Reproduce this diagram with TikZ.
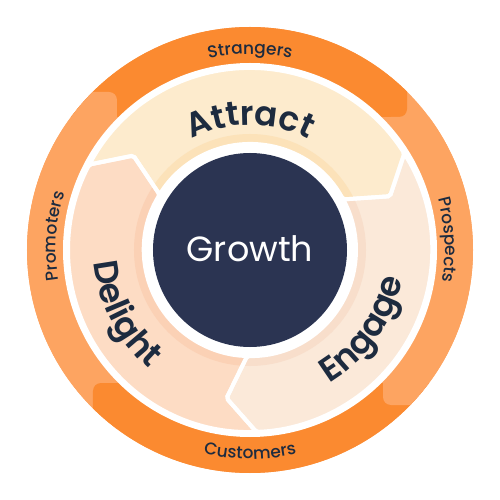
\documentclass[tikz,border=0pt]{standalone}
\usepackage{fontspec}
\setmainfont{Poppins}
\newfontfamily\bigfont{Poppins SemiBold}
\newfontfamily\smallfont{Poppins Medium}
\usetikzlibrary{decorations.text}
\definecolor{darkorange}{HTML}{FB8A30}
\definecolor{lightorange}{HTML}{FDA461}
\definecolor{attractc}{HTML}{FDEBCD}
\definecolor{attractd}{HTML}{FCE2B9}
\definecolor{engagec}{HTML}{FBE9D9}
\definecolor{engaged}{HTML}{F8DECB}
\definecolor{delightc}{HTML}{FDDCC4}
\definecolor{delightd}{HTML}{FBD1B5}
\definecolor{navy}{HTML}{2B3452}
\definecolor{txt}{HTML}{1D2B3F}
\newcommand\bigtxt{\bigfont\fontsize{34}{40}\selectfont\color{txt}}
\newcommand\smalltxt{\smallfont\fontsize{17}{20}\selectfont\color{txt}}
\tikzset{
  bigword/.style={decorate, decoration={text along path, text align=center, text={|\bigtxt|#1}}},
  smallword/.style={decorate, decoration={text along path, text align=center, text={|\smalltxt|#1}}}
}
\begin{document}
\begin{tikzpicture}[x=1pt,y=1pt]
\useasboundingbox (-250,-250) rectangle (250,250);
% outer ring
\begin{scope}
\clip (0,0) circle (223);
\fill[lightorange] (-250,-250) rectangle (250,250);
\fill[darkorange, rounded corners=8] (-260,133) rectangle (157,260);
\fill[lightorange, rounded corners=8] (-260,-260) rectangle (-133,158);
\fill[darkorange, rounded corners=8] (-157,-260) rectangle (260,-133);
\fill[lightorange, rounded corners=8] (133,-155) rectangle (260,133);
\end{scope}
\fill[white] (0,0) circle (187);
% pale segments
\foreach \a/\b/\c/\d in {150/30/attractc/attractd, 30/-90/engagec/engaged, 270/150/delightc/delightd}{
  \fill[\c, rounded corners=2] (\a+2:182) arc[start angle=\a+2, end angle=\b+2, radius=182] -- (\b-9:150) -- (\b-1.5:106) arc[start angle=\b-1.5, end angle=\a-1.5, radius=106] -- (\a-9:150) -- cycle;
  \begin{scope}
  \clip[rounded corners=2] (\a+2:182) arc[start angle=\a+2, end angle=\b+2, radius=182] -- (\b-9:150) -- (\b-1.5:106) arc[start angle=\b-1.5, end angle=\a-1.5, radius=106] -- (\a-9:150) -- cycle;
  \fill[\d] (0,0) circle (116);
  \end{scope}
}
\foreach \a/\b in {150/30, 30/-90, 270/150}{
  \draw[white, line width=4, rounded corners=2] (\a+2:182) arc[start angle=\a+2, end angle=\b+2, radius=182] -- (\b-9:150) -- (\b-1.5:106) arc[start angle=\b-1.5, end angle=\a-1.5, radius=106] -- (\a-9:150) -- cycle;
}
\fill[white] (0,0) circle (106);
\node[circle, fill=navy, minimum size=194, inner sep=0] (hub) at (0,0) {};
\node[text=white, font=\fontsize{35}{40}\selectfont] (growth) at (0,1) {Growth};
% big words
\path[bigword=Attract] (140:125) arc[start angle=140, end angle=40, radius=125];
\path[bigword=Engage] (280:155) arc[start angle=280, end angle=370, radius=155];
\path[bigword=Delight] (162:156) arc[start angle=162, end angle=252, radius=156];
% small words
\path[smallword=Strangers] (135:196) arc[start angle=135, end angle=45, radius=196];
\path[smallword=Customers] (225:209) arc[start angle=225, end angle=315, radius=209];
\path[smallword=Prospects] (48:195) arc[start angle=48, end angle=-42, radius=195];
\path[smallword=Promoters] (221:194) arc[start angle=221, end angle=131, radius=194];
\end{tikzpicture}
\end{document}
